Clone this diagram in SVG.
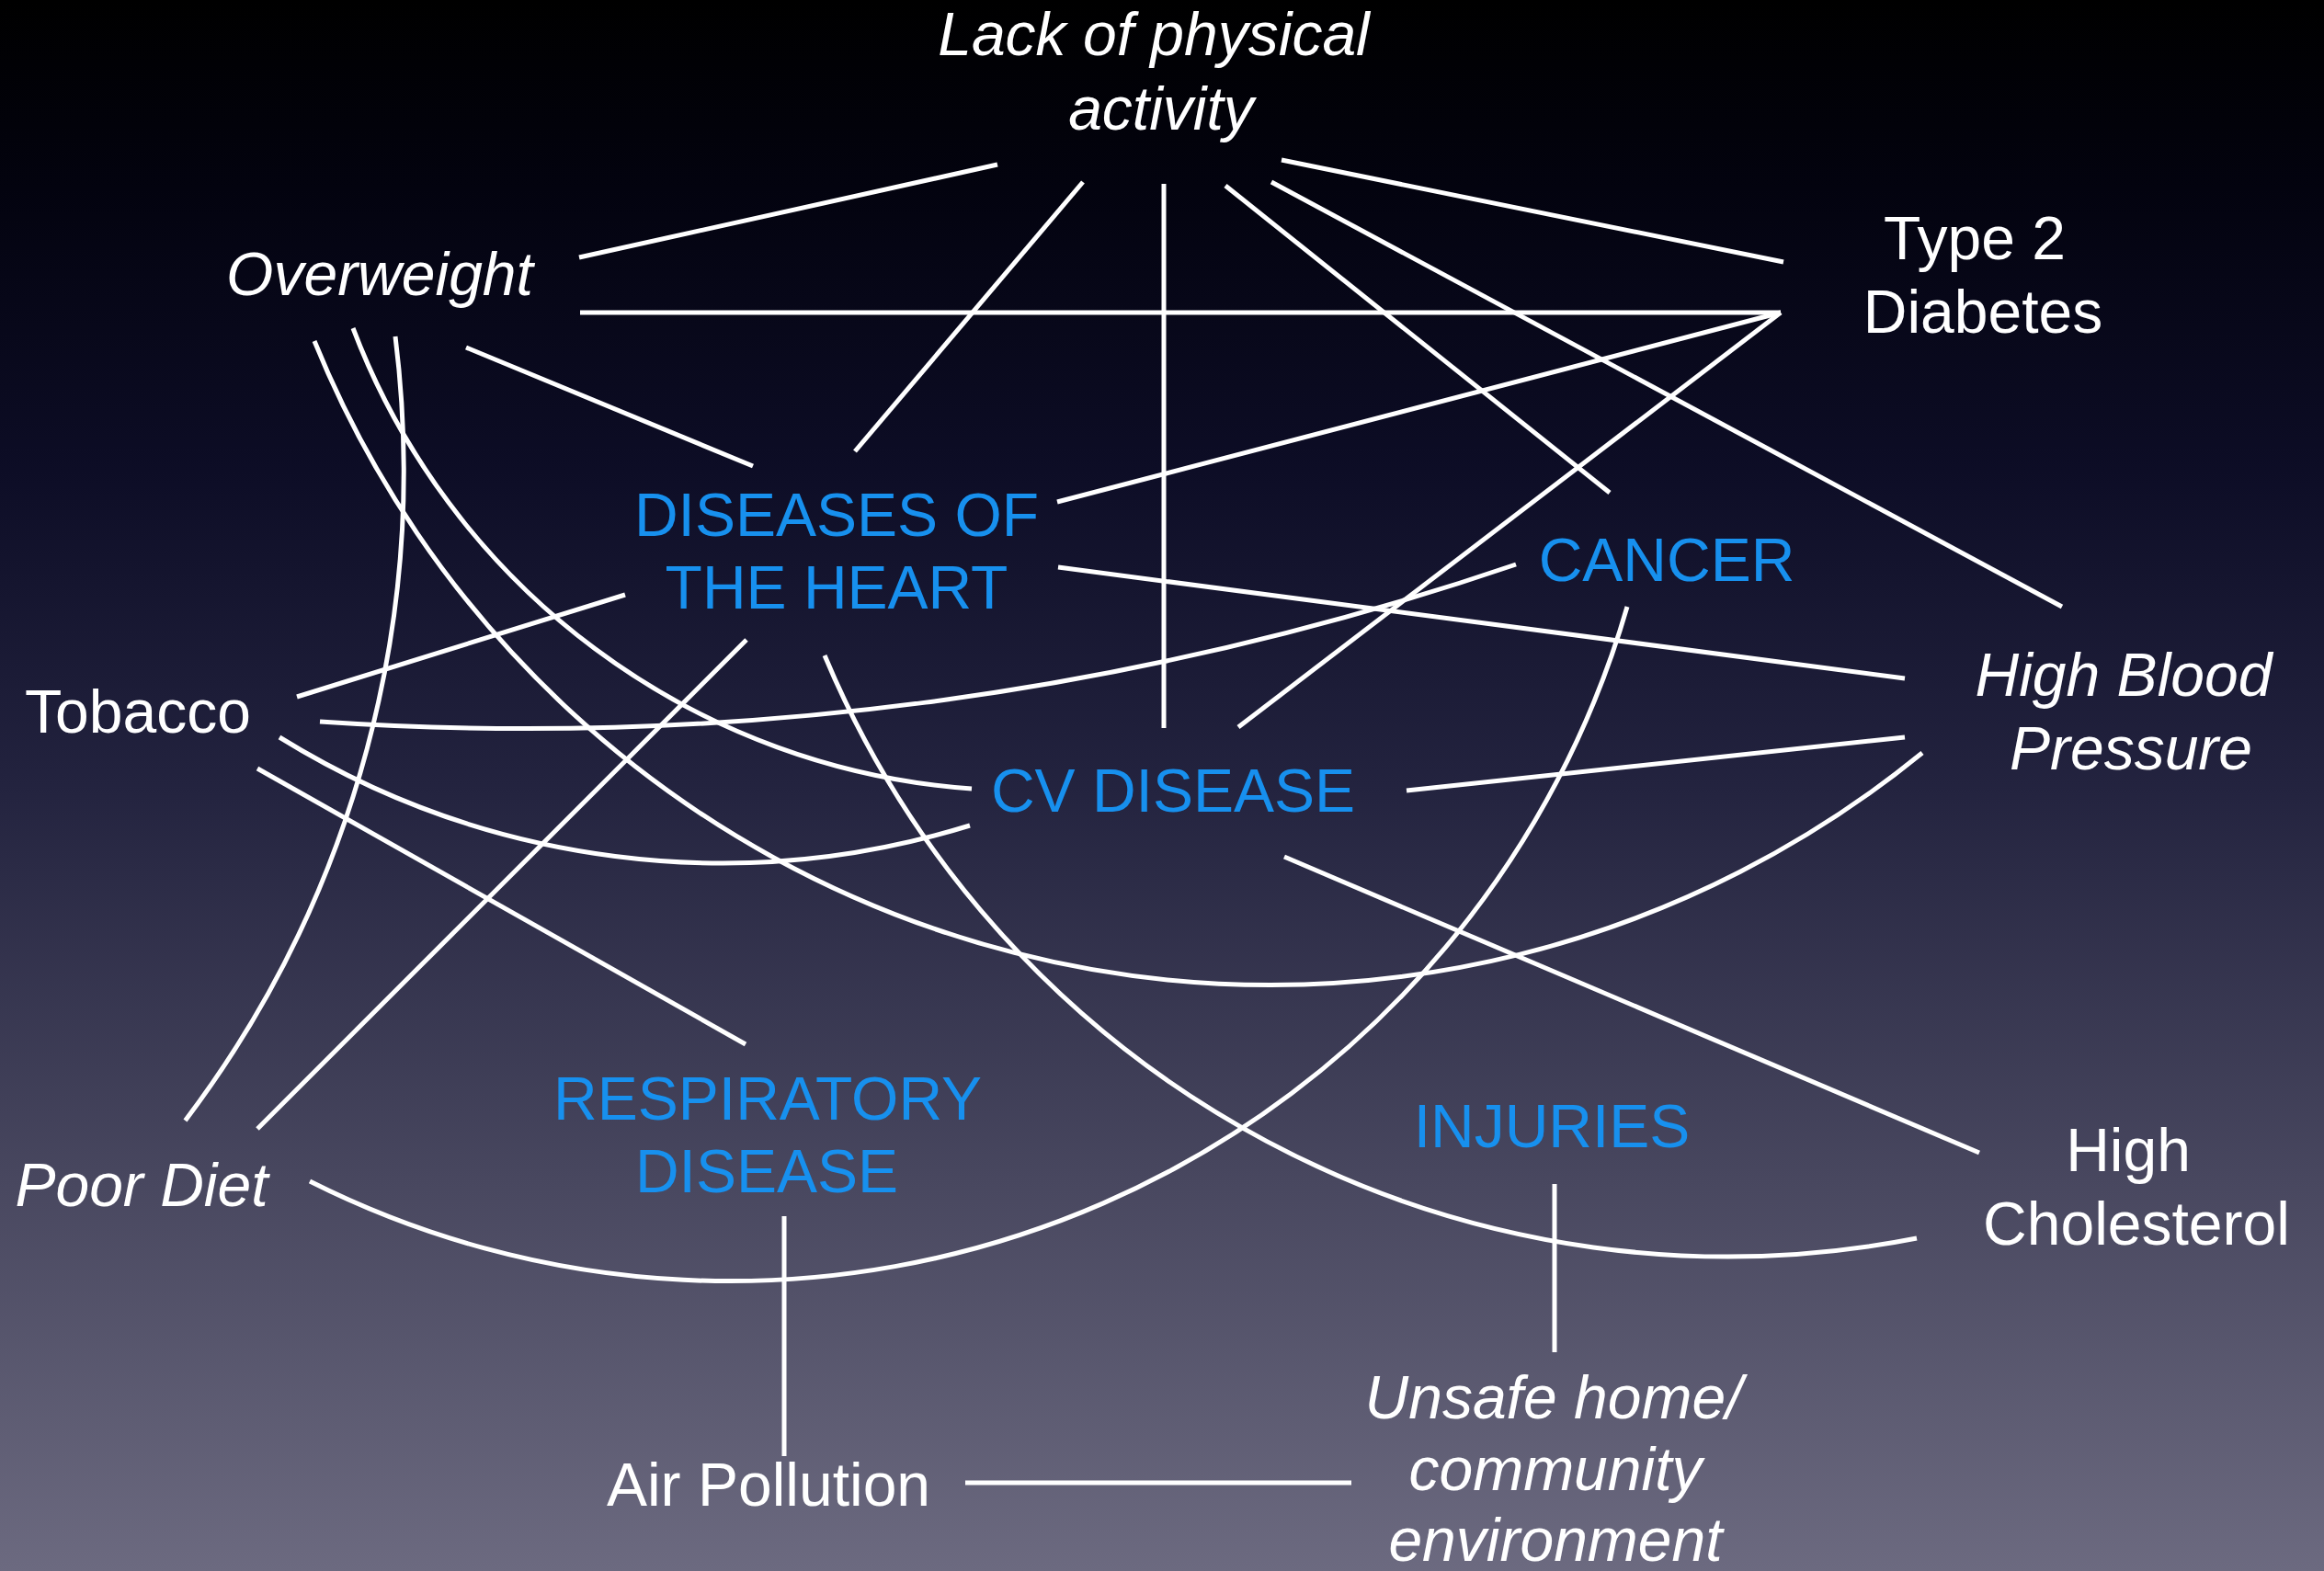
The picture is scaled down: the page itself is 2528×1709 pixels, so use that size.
<svg xmlns="http://www.w3.org/2000/svg" width="2528" height="1709" viewBox="0 0 2528 1709">
<defs>
<linearGradient id="bg" x1="0" y1="0" x2="0" y2="1">
<stop offset="0" stop-color="#000000"/>
<stop offset="0.12" stop-color="#03030f"/>
<stop offset="0.3" stop-color="#0d0d26"/>
<stop offset="0.5" stop-color="#23233f"/>
<stop offset="0.75" stop-color="#48475f"/>
<stop offset="1" stop-color="#6c6a80"/>
</linearGradient>
<style>
text{font-family:"Liberation Sans",Arial,sans-serif;font-size:66px;text-anchor:middle}
.w{fill:#ffffff}
.b{fill:#1790ee}
.i{font-style:italic}
.c line,.c path{stroke:#ffffff;stroke-width:5;fill:none}
</style>
</defs>
<rect width="2528" height="1709" fill="url(#bg)"/>
<g class="c" id="connectors">
<line x1="630" y1="280" x2="1085" y2="179"/>
<line x1="1178" y1="198" x2="930" y2="491"/>
<line x1="1266" y1="200" x2="1266" y2="792"/>
<line x1="1333" y1="202" x2="1751" y2="536"/>
<line x1="1383" y1="198" x2="2243" y2="660"/>
<line x1="1394" y1="174" x2="1940" y2="285"/>
<line x1="631" y1="340" x2="1937" y2="340"/>
<line x1="1937" y1="340" x2="1150" y2="546"/>
<line x1="1937" y1="340" x2="1347" y2="791"/>
<line x1="507" y1="378" x2="819" y2="507"/>
<line x1="1151" y1="617" x2="2072" y2="738"/>
<line x1="323" y1="758" x2="680" y2="647"/>
<line x1="812" y1="696" x2="280" y2="1228"/>
<line x1="280" y1="836" x2="811" y2="1136"/>
<line x1="1530" y1="860" x2="2072" y2="802"/>
<line x1="1397" y1="932" x2="2153" y2="1254"/>
<line x1="853" y1="1323" x2="853" y2="1584"/>
<line x1="1691" y1="1288" x2="1691" y2="1471"/>
<line x1="1050" y1="1613" x2="1470" y2="1613"/>
<path d="M 348 785 A 3335 3335 0 0 0 1649 614"/>
<path d="M 384 357 A 779 779 0 0 0 1057 858"/>
<path d="M 342 371 A 1122 1122 0 0 0 2091 819"/>
<path d="M 430 366 A 1172 1172 0 0 1 201.5 1219"/>
<path d="M 304 802 A 914 914 0 0 0 1055 898"/>
<path d="M 897 713 A 1065 1065 0 0 0 2085 1347"/>
<path d="M 1770 660 A 1016 1016 0 0 1 337 1285"/>
</g>
<g id="lack-activity"><text class="w i" x="1255" y="60">Lack of physical</text><text class="w i" x="1263" y="141">activity</text></g>
<g id="overweight"><text class="w i" x="413" y="321">Overweight</text></g>
<g id="type2-diabetes"><text class="w" x="2148" y="282">Type 2</text><text class="w" x="2157" y="362">Diabetes</text></g>
<g id="diseases-heart"><text class="b" x="910" y="583">DISEASES OF</text><text class="b" x="910" y="662">THE HEART</text></g>
<g id="cancer"><text class="b" x="1813" y="632">CANCER</text></g>
<g id="tobacco"><text class="w" x="150" y="797">Tobacco</text></g>
<g id="high-bp"><text class="w i" x="2310" y="757">High Blood</text><text class="w i" x="2318" y="837">Pressure</text></g>
<g id="cv-disease"><text class="b" x="1276" y="883">CV DISEASE</text></g>
<g id="respiratory"><text class="b" x="835" y="1218">RESPIRATORY</text><text class="b" x="834" y="1297">DISEASE</text></g>
<g id="injuries"><text class="b" x="1688" y="1248">INJURIES</text></g>
<g id="high-cholesterol"><text class="w" x="2315" y="1274">High</text><text class="w" x="2324" y="1354">Cholesterol</text></g>
<g id="poor-diet"><text class="w i" x="154" y="1312">Poor Diet</text></g>
<g id="air-pollution"><text class="w" x="836" y="1638">Air Pollution</text></g>
<g id="unsafe-home"><text class="w i" x="1690" y="1543">Unsafe home/</text><text class="w i" x="1692" y="1621">community</text><text class="w i" x="1692" y="1698">environment</text></g>
</svg>
